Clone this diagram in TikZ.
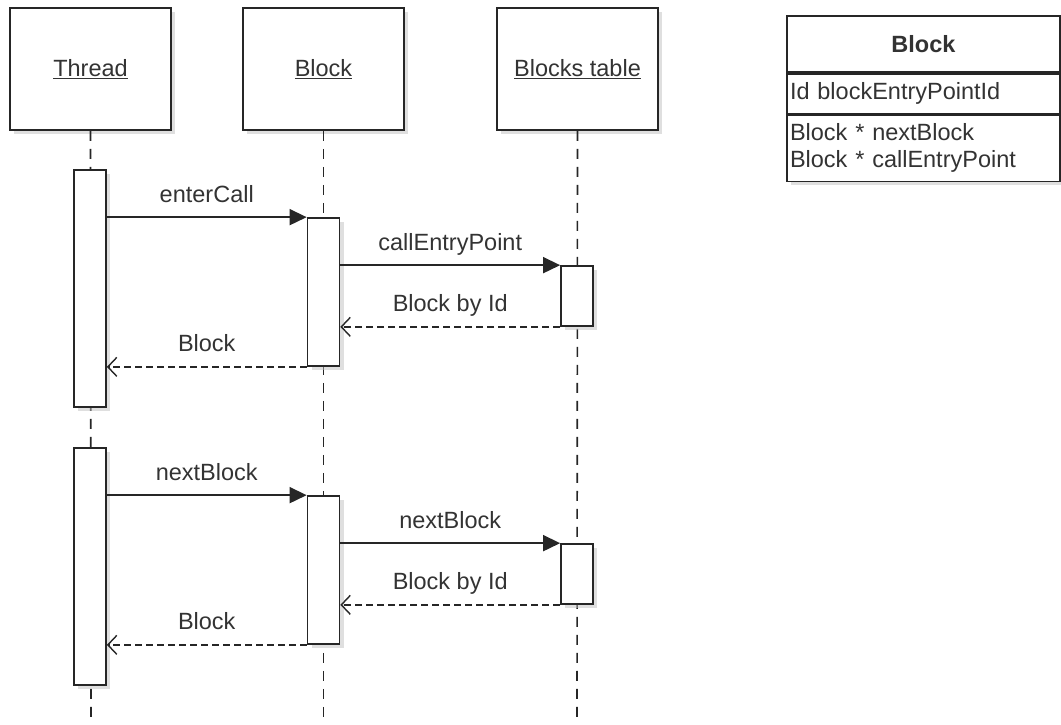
\documentclass[tikz,border=0pt]{standalone}
\usepackage{fontspec}
\setmainfont{Liberation Sans}
\usetikzlibrary{arrows.meta,shadows}
\newcommand{\lbl}{\fontsize{23.5}{27}\selectfont}

\begin{document}
\begin{tikzpicture}[x=1pt,y=-1pt,
    every node/.style={font=\lbl, text=black!80},
    boxshadow/.style={drop shadow={shadow xshift=4pt,shadow yshift=-4pt,fill=black!25}},
    lifebox/.style={draw=black!85, line width=1.7pt, fill=white, minimum width=161pt, minimum height=122pt, inner sep=0pt, boxshadow},
    bar/.style={draw=black!85, line width=1.7pt, fill=white, minimum width=32pt, inner sep=0pt, boxshadow},
    lifeline/.style={draw=black!85, line width=1.6pt, dash pattern=on 10pt off 8pt},
    call/.style={draw=black!85, line width=1.6pt, -{Triangle[length=17pt,width=16pt]}},
    reply/.style={draw=black!85, line width=1.4pt, dash pattern=on 7pt off 4pt, -{Straight Barb[length=9pt,width=19pt]}},
    msg/.style={midway, yshift=21pt, text height=16pt, text depth=4pt, inner sep=0pt},
    clsrow/.style={draw=black!85, line width=1.7pt, fill=white, text width=267pt, inner xsep=3pt, inner ysep=0pt, align=left, boxshadow}]
              \useasboundingbox (0,0) rectangle (1061,724);

              \node[lifebox] (thread) at (90.5,69) {\underline{Thread}};
              \node[lifebox] (block) at (323.5,69) {\underline{Block}};
              \node[lifebox] (table) at (577.5,69) {\underline{Blocks table}};

              \coordinate (threadEnd) at (91,724);
              \coordinate (blockEnd) at (323.5,724);
              \coordinate (tableEnd) at (577,724);
              \draw[lifeline] (thread.south) -- (threadEnd);
              \draw[lifeline] (block.south) -- (blockEnd);
              \draw[lifeline] (table.south) -- (tableEnd);

              \node[bar, minimum height=237pt] (t1) at (90,288.5) {};
              \node[bar, minimum height=148pt] (b1) at (323.5,292) {};
              \node[bar, minimum height=60pt] (c1) at (577,296) {};
              \node[bar, minimum height=237pt] (t2) at (90,566.5) {};
              \node[bar, minimum height=148pt] (b2) at (323.5,570) {};
              \node[bar, minimum height=60pt] (c2) at (577,574) {};

              \draw[call] (t1.east |- b1.north) -- (b1.north west) node[msg] {enterCall};
              \draw[call] (b1.east |- c1.north) -- (c1.north west) node[msg] {callEntryPoint};
              \draw[reply] (c1.south west) -- (b1.east |- c1.south) node[msg] {Block by Id};
              \draw[reply] (b1.south west) -- (t1.east |- b1.south) node[msg] {Block};

              \draw[call] (t2.east |- b2.north) -- (b2.north west) node[msg] {nextBlock};
              \draw[call] (b2.east |- c2.north) -- (c2.north west) node[msg] {nextBlock};
              \draw[reply] (c2.south west) -- (b2.east |- c2.south) node[msg] {Block by Id};
              \draw[reply] (b2.south west) -- (t2.east |- b2.south) node[msg] {Block};

              \node[clsrow, align=center, minimum height=56pt] (clsHead) at (923.5,44) {\textbf{Block}};
              \node[clsrow, minimum height=40pt, anchor=north] (clsAttr) at (clsHead.south) {Id blockEntryPointId};
              \node[clsrow, minimum height=66pt, anchor=north] (clsOps) at (clsAttr.south) {Block * nextBlock\\Block * callEntryPoint};

            \end{tikzpicture}
\end{document}
